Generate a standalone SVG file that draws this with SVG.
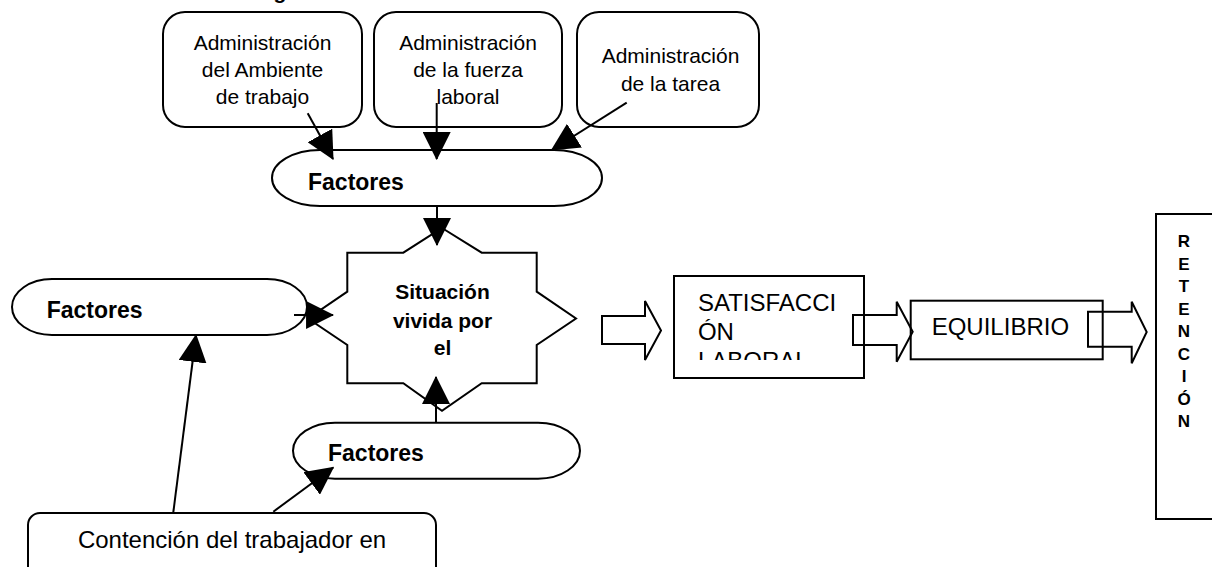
<svg xmlns="http://www.w3.org/2000/svg" width="1212" height="567" viewBox="0 0 1212 567">
<style>
.shape{fill:#fff;stroke:#000;stroke-width:2}
.hollow{fill:none;stroke:#000;stroke-width:2}
.conn{fill:none;stroke:#000;stroke-width:2}
.t{font-family:"Liberation Sans",Arial,sans-serif;fill:#000}
.adm{font-size:21px;text-anchor:middle}
.fac{font-size:23px;font-weight:bold}
.sit{font-size:21px;font-weight:bold;text-anchor:middle}
.big{font-size:24px}
.ret{font-size:17px;font-weight:bold;text-anchor:middle}
</style>
<defs>
<marker id="ah" markerUnits="userSpaceOnUse" markerWidth="28" markerHeight="28" viewBox="0 0 26 26" refX="25" refY="13" orient="auto">
<path d="M0,0 L26,13 L0,26 Z" fill="#000"/>
</marker>
<clipPath id="satclip"><rect x="675" y="277" width="188" height="83"/></clipPath>
</defs>
<rect width="1212" height="567" fill="#fff"/>
<text class="t" x="273.6" y="-1.5" font-size="21" font-weight="bold">g</text>

<g id="admin-ambiente">
<rect class="shape" x="163" y="12" width="199" height="115" rx="22" ry="22"/>
<text class="t adm" x="262.5" y="50">Administración</text>
<text class="t adm" x="262.5" y="77">del Ambiente</text>
<text class="t adm" x="262.5" y="104">de trabajo</text>
</g>
<g id="admin-fuerza">
<rect class="shape" x="374" y="12" width="188" height="115" rx="22" ry="22"/>
<text class="t adm" x="468" y="50">Administración</text>
<text class="t adm" x="468" y="77">de la fuerza</text>
<text class="t adm" x="468" y="104">laboral</text>
</g>
<g id="admin-tarea">
<rect class="shape" x="577" y="12" width="182" height="115" rx="22" ry="22"/>
<text class="t adm" x="670.5" y="63">Administración</text>
<text class="t adm" x="670.5" y="90.5">de la tarea</text>
</g>

<g id="factores-top">
<rect class="shape" x="272" y="150" width="330" height="56" rx="48" ry="28"/>
<text class="t fac" x="308" y="190">Factores</text>
</g>
<g id="factores-left">
<rect class="shape" x="12" y="279" width="295" height="56" rx="40" ry="28"/>
<text class="t fac" x="46.7" y="318">Factores</text>
</g>
<g id="factores-bottom">
<rect class="shape" x="293" y="422.7" width="287" height="56" rx="42" ry="28"/>
<text class="t fac" x="328" y="461">Factores</text>
</g>

<g id="situacion">
<polygon class="shape" points="442,228 481.7,252.7 536.7,252.7 536.7,291.7 576,318.5 536.7,345 536.7,383.3 481.7,383.3 442,410.7 403.3,383.3 347.3,383.3 347.3,345 308,318.5 347.3,291.7 347.3,252.7 403.3,252.7"/>
<text class="t sit" x="442.5" y="299.3">Situación</text>
<text class="t sit" x="442.5" y="327.7">vivida por</text>
<text class="t sit" x="442.5" y="355.3">el</text>
</g>

<g id="contencion">
<rect class="shape" x="28" y="513" width="408" height="80" rx="12" ry="12"/>
<text class="t big" x="232" y="548" text-anchor="middle">Contención del trabajador en</text>
</g>

<g id="satisfaccion">
<rect class="shape" x="674" y="276" width="190" height="102"/>
<g clip-path="url(#satclip)">
<text class="t big" x="697.9" y="311">SATISFACCI</text>
<text class="t big" x="697.9" y="340">ÓN</text>
<text class="t big" x="697.9" y="369">LABORAL</text>
</g>
</g>

<g id="equilibrio">
<rect class="shape" x="910.7" y="300.7" width="192" height="58.6"/>
<text class="t big" x="931.7" y="335">EQUILIBRIO</text>
</g>

<g id="retencion">
<rect class="shape" x="1156" y="214" width="80" height="305"/>
<text class="t ret" x="1184" y="247">R</text>
<text class="t ret" x="1184" y="269.5">E</text>
<text class="t ret" x="1184" y="292">T</text>
<text class="t ret" x="1184" y="314.5">E</text>
<text class="t ret" x="1184" y="337">N</text>
<text class="t ret" x="1184" y="359.5">C</text>
<text class="t ret" x="1184" y="382">I</text>
<text class="t ret" x="1184" y="404.5">Ó</text>
<text class="t ret" x="1184" y="427">N</text>
</g>

<g id="connectors">
<line class="conn" x1="307.7" y1="113.3" x2="333" y2="159" marker-end="url(#ah)"/>
<line class="conn" x1="436.7" y1="103" x2="436.7" y2="159" marker-end="url(#ah)"/>
<line class="conn" x1="626.7" y1="102.7" x2="551.7" y2="150" marker-end="url(#ah)"/>
<line class="conn" x1="437" y1="206" x2="437" y2="245" marker-end="url(#ah)"/>
<line class="conn" x1="294" y1="315" x2="333" y2="315" marker-end="url(#ah)"/>
<line class="conn" x1="436" y1="422.7" x2="436" y2="377" marker-end="url(#ah)"/>
<line class="conn" x1="173.3" y1="512.3" x2="196" y2="335" marker-end="url(#ah)"/>
<line class="conn" x1="273.3" y1="511.7" x2="333.3" y2="467.5" marker-end="url(#ah)"/>
<path class="hollow" d="M602,316 L645,316 L645,301 L661,330.5 L645,360 L645,344 L602,344 Z"/>
<path class="hollow" d="M853,315 L896.7,315 L896.7,301.7 L912.7,331.7 L896.7,361.7 L896.7,345 L853,345 Z"/>
<path class="hollow" d="M1088,311.7 L1131.7,311.7 L1131.7,301.7 L1146.7,332 L1131.7,363.3 L1131.7,346.7 L1088,346.7 Z"/>
</g>
</svg>
